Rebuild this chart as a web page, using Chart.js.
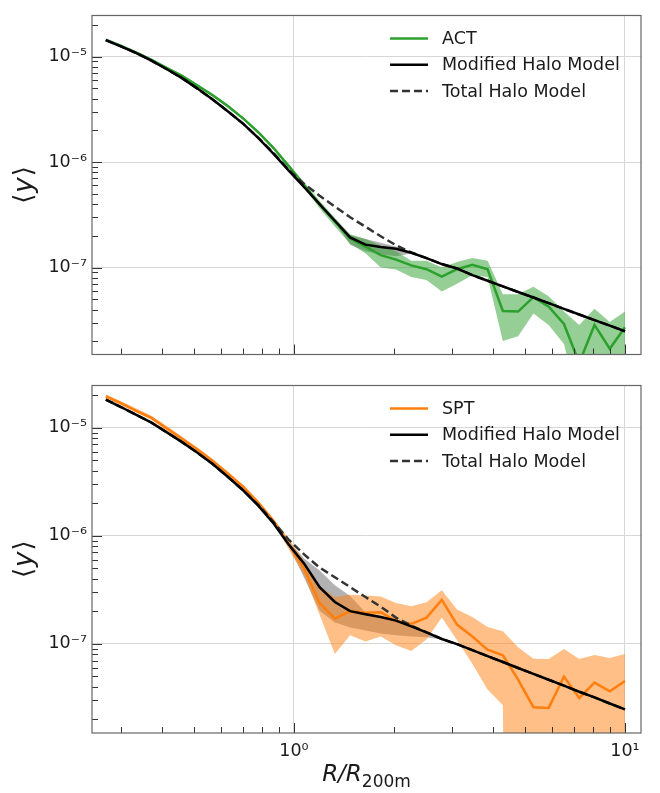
<!DOCTYPE html>
<html>
<head>
<meta charset="utf-8">
<script src="https://cdn.jsdelivr.net/npm/chart.js@4.4.0/dist/chart.umd.min.js"></script>
<style>
  body { margin: 0; background: #fff; }
  #wrap { position: relative; width: 660px; height: 793px; }
  canvas { position: absolute; left: 0; }
</style>
</head>
<body>
<div id="wrap">
  <canvas id="actChart" width="660" height="370" style="top:0px"></canvas>
  <canvas id="sptChart" width="660" height="423" style="top:370px"></canvas>
</div>
<script>
// radial bins, R / R200m
const R = [0.270, 0.300, 0.334, 0.371, 0.413, 0.459, 0.511, 0.568, 0.632, 0.703,
           0.781, 0.869, 0.966, 1.075, 1.195, 1.329, 1.478, 1.644, 1.828, 2.033,
           2.261, 2.514, 2.796, 3.109, 3.458, 3.845, 4.276, 4.755, 5.289, 5.882,
           6.541, 7.274, 8.090, 8.996, 10.00]

// ACT panel
const ACT = [1.44e-5, 1.26e-5, 1.09e-5, 9.30e-6, 7.79e-6, 6.55e-6, 5.30e-6, 4.30e-6, 3.38e-6, 2.58e-6,
             1.91e-6, 1.35e-6, 9.11e-7, 6.00e-7, 3.96e-7, 2.72e-7, 1.89e-7, 1.58e-7, 1.31e-7, 1.19e-7,
             1.05e-7, 9.65e-8, 8.20e-8, 9.65e-8, 1.06e-7, 9.65e-8, 3.88e-8, 3.83e-8, 5.24e-8, 4.26e-8,
             2.92e-8, 1.25e-8, 2.86e-8, 1.70e-8, 2.72e-8]
const ACT_HI = [1.49e-5, 1.30e-5, 1.12e-5, 9.60e-6, 8.04e-6, 6.76e-6, 5.47e-6, 4.44e-6, 3.49e-6, 2.66e-6,
                1.97e-6, 1.40e-6, 9.49e-7, 6.39e-7, 4.30e-7, 2.96e-7, 2.07e-7, 1.87e-7, 1.62e-7, 1.43e-7,
                1.16e-7, 1.16e-7, 1.00e-7, 1.13e-7, 1.23e-7, 1.16e-7, 5.58e-8, 5.58e-8, 6.59e-8, 5.35e-8,
                3.83e-8, 2.86e-8, 4.08e-8, 3.05e-8, 3.83e-8]
const ACT_LO = [1.40e-5, 1.22e-5, 1.05e-5, 9.01e-6, 7.55e-6, 6.35e-6, 5.14e-6, 4.17e-6, 3.28e-6, 2.50e-6,
                1.85e-6, 1.31e-6, 8.74e-7, 5.64e-7, 3.64e-7, 2.45e-7, 1.68e-7, 1.37e-7, 1.00e-7, 9.59e-8,
                8.12e-8, 7.63e-8, 5.94e-8, 7.02e-8, 8.46e-8, 8.12e-8, 2.01e-8, 2.23e-8, 3.68e-8, 2.86e-8,
                1.89e-8, 5e-9, 5e-9, 5e-9, 5e-9]
const MOD_ACT = [1.43e-5, 1.25e-5, 1.08e-5, 9.14e-6, 7.58e-6, 6.24e-6, 4.97e-6, 3.91e-6, 3.02e-6, 2.30e-6,
                 1.69e-6, 1.19e-6, 8.24e-7, 5.76e-7, 3.99e-7, 2.78e-7, 1.93e-7, 1.65e-7, 1.57e-7, 1.51e-7,
                 1.38e-7, 1.23e-7, 1.08e-7, 9.79e-8, 8.48e-8, 7.50e-8, 6.63e-8, 5.87e-8, 5.20e-8, 4.60e-8,
                 4.06e-8, 3.59e-8, 3.18e-8, 2.82e-8, 2.49e-8]
const TOT_ACT = [1.43e-5, 1.25e-5, 1.08e-5, 9.14e-6, 7.58e-6, 6.24e-6, 4.97e-6, 3.91e-6, 3.02e-6, 2.30e-6,
                 1.69e-6, 1.21e-6, 8.38e-7, 6.18e-7, 4.80e-7, 3.78e-7, 3.00e-7, 2.44e-7, 1.98e-7, 1.63e-7,
                 1.39e-7, 1.23e-7, 1.08e-7, 9.79e-8, 8.48e-8, 7.50e-8, 6.63e-8, 5.87e-8, 5.20e-8, 4.60e-8,
                 4.06e-8, 3.59e-8, 3.18e-8, 2.82e-8, 2.49e-8]
const GREY_ACT_HI = [null, null, null, null, null, null, null, null, null, null,
                     null, null, null, null, null, 2.78e-7, 2.03e-7, 1.87e-7, 1.72e-7, 1.58e-7,
                     1.39e-7, null, null, null, null, null, null, null, null, null,
                     null, null, null, null, null]
const GREY_ACT_LO = [null, null, null, null, null, null, null, null, null, null,
                     null, null, null, null, null, 2.70e-7, 1.65e-7, 1.43e-7, 1.34e-7, 1.28e-7,
                     1.36e-7, null, null, null, null, null, null, null, null, null,
                     null, null, null, null, null]

// SPT panel
const SPT = [1.94e-5, 1.68e-5, 1.43e-5, 1.23e-5, 9.83e-6, 7.89e-6, 6.27e-6, 4.90e-6, 3.75e-6, 2.83e-6,
             2.02e-6, 1.36e-6, 8.40e-7, 4.88e-7, 2.39e-7, 1.71e-7, 2.01e-7, 1.94e-7, 1.96e-7, 1.63e-7,
             1.53e-7, 1.75e-7, 2.55e-7, 1.51e-7, 1.17e-7, 8.86e-8, 7.84e-8, 4.68e-8, 2.60e-8, 2.56e-8,
             4.98e-8, 3.16e-8, 4.39e-8, 3.64e-8, 4.53e-8]
const SPT_HI = [2.03e-5, 1.75e-5, 1.50e-5, 1.29e-5, 1.03e-5, 8.23e-6, 6.54e-6, 5.11e-6, 3.91e-6, 2.95e-6,
                2.11e-6, 1.42e-6, 9.33e-7, 5.71e-7, 3.42e-7, 2.71e-7, 2.85e-7, 2.80e-7, 2.75e-7, 2.39e-7,
                2.23e-7, 2.43e-7, 3.14e-7, 2.08e-7, 1.77e-7, 1.43e-7, 1.31e-7, 9.33e-8, 7.30e-8, 7.26e-8,
                8.95e-8, 7.26e-8, 7.89e-8, 7.41e-8, 8.06e-8]
const SPT_LO = [1.86e-5, 1.61e-5, 1.37e-5, 1.18e-5, 9.42e-6, 7.56e-6, 6.01e-6, 4.70e-6, 3.60e-6, 2.71e-6,
                1.94e-6, 1.30e-6, 7.41e-7, 4.30e-7, 1.86e-7, 8.06e-8, 1.20e-7, 1.05e-7, 1.17e-7, 9.73e-8,
                8.58e-8, 1.10e-7, 1.75e-7, 1.08e-7, 6.54e-8, 3.79e-8, 2.71e-8, 1e-20, 1e-20, 1e-20,
                1e-20, 1e-20, 1e-20, 1e-20, 1e-20]
const MOD_SPT = [1.81e-5, 1.55e-5, 1.31e-5, 1.11e-5, 9.03e-6, 7.34e-6, 5.85e-6, 4.60e-6, 3.49e-6, 2.62e-6,
                 1.89e-6, 1.29e-6, 8.23e-7, 5.47e-7, 3.35e-7, 2.44e-7, 2.01e-7, 1.88e-7, 1.77e-7, 1.64e-7,
                 1.45e-7, 1.28e-7, 1.11e-7, 9.94e-8, 8.75e-8, 7.71e-8, 6.80e-8, 5.99e-8, 5.28e-8, 4.66e-8,
                 4.11e-8, 3.61e-8, 3.20e-8, 2.81e-8, 2.48e-8]
const TOT_SPT = [1.81e-5, 1.55e-5, 1.31e-5, 1.11e-5, 9.03e-6, 7.34e-6, 5.85e-6, 4.60e-6, 3.49e-6, 2.62e-6,
                 1.92e-6, 1.33e-6, 9.14e-7, 6.68e-7, 5.08e-7, 4.13e-7, 3.35e-7, 2.71e-7, 2.21e-7, 1.75e-7,
                 1.48e-7, 1.28e-7, 1.11e-7, 9.94e-8, 8.75e-8, 7.71e-8, 6.80e-8, 5.99e-8, 5.28e-8, 4.66e-8,
                 4.11e-8, 3.61e-8, 3.20e-8, 2.81e-8, 2.48e-8]
const GREY_SPT_HI = [null, null, null, null, null, null, null, null, null, null,
                     null, null, 8.76e-7, 6.14e-7, 4.78e-7, 3.49e-7, 2.77e-7, 1.95e-7, 1.80e-7, 1.66e-7,
                     1.47e-7, 1.29e-7, 1.12e-7, null, null, null, null, null, null, null,
                     null, null, null, null, null]
const GREY_SPT_LO = [null, null, null, null, null, null, null, null, null, null,
                     null, null, 7.89e-7, 4.04e-7, 2.03e-7, 1.58e-7, 1.42e-7, 1.33e-7, 1.25e-7, 1.20e-7,
                     1.17e-7, 1.15e-7, 1.10e-7, null, null, null, null, null, null, null,
                     null, null, null, null, null]

const X_MIN = 0.2453, X_MAX = 11.18
const Y_MIN = 1.5e-8, Y_MAX = 2.45e-5

const FONT = "'DejaVu Sans', sans-serif"
const SUP = { '-': '⁻', '0': '⁰', '1': '¹', '2': '²', '3': '³', '4': '⁴', '5': '⁵', '6': '⁶', '7': '⁷', '8': '⁸', '9': '⁹' }

const isDecade = (v) => {
    const l = Math.log10(v)
    return Math.abs(l - Math.round(l)) < 1e-6
}

const powLabel = (v) => {
    if (!isDecade(v)) return ''
    return '10' + String(Math.round(Math.log10(v))).split('').map(c => SUP[c]).join('')
}

const gridColor = (c) => (c.tick && isDecade(c.tick.value)) ? '#d6d6d6' : 'rgba(0,0,0,0)'

const decor = {
    id: 'decor',
    afterDraw(chart) {
        const ctx = chart.ctx, a = chart.chartArea
        const xs = chart.scales.x, ys = chart.scales.y
        const o = chart.options.plugins.decor
        ctx.save()

        // inward ticks
        ctx.strokeStyle = '#333'
        ctx.lineWidth = 1
        ctx.beginPath()
        for (let e = -1; e <= 1; e++) {
            for (let k = 1; k <= 9; k++) {
                const v = k * Math.pow(10, e)
                if (v < xs.min || v > xs.max) continue
                const px = Math.round(xs.getPixelForValue(v)) + 0.5
                ctx.moveTo(px, a.bottom)
                ctx.lineTo(px, a.bottom - (k === 1 ? 10 : 6))
            }
        }
        for (let e = -9; e <= -4; e++) {
            for (let k = 1; k <= 9; k++) {
                const v = k * Math.pow(10, e)
                if (v < ys.min || v > ys.max) continue
                const py = Math.round(ys.getPixelForValue(v)) + 0.5
                ctx.moveTo(a.left, py)
                ctx.lineTo(a.left + (k === 1 ? 10 : 6), py)
            }
        }
        ctx.stroke()

        // frame
        ctx.strokeStyle = '#666'
        ctx.lineWidth = 1.2
        ctx.strokeRect(a.left, a.top, a.right - a.left, a.bottom - a.top)

        // legend
        ctx.font = '17.5px ' + FONT
        ctx.textBaseline = 'middle'
        ctx.textAlign = 'left'
        o.legend.forEach((idx, i) => {
            const ds = chart.data.datasets[idx]
            const y = a.top + 23 + i * 26.3
            ctx.beginPath()
            ctx.strokeStyle = ds.borderColor
            ctx.lineWidth = ds.borderWidth
            ctx.setLineDash(ds.borderDash || [])
            ctx.moveTo(390, y)
            ctx.lineTo(428, y)
            ctx.stroke()
            ctx.setLineDash([])
            ctx.fillStyle = '#1a1a1a'
            ctx.fillText(ds.label, 442, y + 1)
        })

        // y title  <y>
        const cy = (a.top + a.bottom) / 2
        ctx.translate(25, cy)
        ctx.rotate(-Math.PI / 2)
        const up = '26px ' + FONT, it = 'italic 26px ' + FONT
        ctx.font = up
        const wl = ctx.measureText('⟨').width
        ctx.font = it
        const wy = ctx.measureText('y').width
        let x0 = -(wl * 2 + wy + 2) / 2
        ctx.fillStyle = '#1a1a1a'
        ctx.font = up
        ctx.fillText('⟨', x0, 0)
        ctx.font = it
        ctx.fillText('y', x0 + wl + 1, 0)
        ctx.font = up
        ctx.fillText('⟩', x0 + wl + wy + 2, 0)
        ctx.setTransform(1, 0, 0, 1, 0, 0)

        // x title  R/R_200m
        if (o.xTitle) {
            const big = 'italic 23px ' + FONT, small = '17px ' + FONT
            ctx.font = big
            const w1 = ctx.measureText('R/R').width
            ctx.font = small
            const w2 = ctx.measureText('200m').width
            const cx = (a.left + a.right) / 2
            const bx = cx - (w1 + w2) / 2
            ctx.textBaseline = 'alphabetic'
            ctx.font = big
            ctx.fillText('R/R', bx, 411)
            ctx.font = small
            ctx.fillText('200m', bx + w1, 417)
        }
        ctx.restore()
    }
}

const makePanel = (canvasId, obs, obsHi, obsLo, mod, tot, greyHi, greyLo, name, color, band, bottom) => {
    return new Chart(document.getElementById(canvasId), {
        type: 'line',
        data: {
            labels: R,
            datasets: [
                { label: 'Modified Halo Model', data: mod, borderColor: '#000', borderWidth: 2.5 },
                { label: 'Total Halo Model', data: tot, borderColor: '#333', borderWidth: 2.5, borderDash: [8, 4] },
                { label: name, data: obs, borderColor: color, borderWidth: 2.5 },
                { label: 'lo', data: obsLo, borderColor: 'rgba(0,0,0,0)', borderWidth: 0 },
                { label: 'hi', data: obsHi, borderColor: 'rgba(0,0,0,0)', borderWidth: 0, fill: '-1', backgroundColor: band },
                { label: 'glo', data: greyLo, borderColor: 'rgba(0,0,0,0)', borderWidth: 0 },
                { label: 'ghi', data: greyHi, borderColor: 'rgba(0,0,0,0)', borderWidth: 0, fill: '-1', backgroundColor: 'rgba(0,0,0,0.3)' }
            ]
        },
        options: {
            responsive: false,
            animation: false,
            devicePixelRatio: 1,
            events: [],
            elements: { point: { radius: 0 }, line: { tension: 0, fill: false } },
            layout: { padding: { top: bottom ? 9 : 6, right: 19, left: 0, bottom: 0 } },
            scales: {
                x: {
                    type: 'logarithmic',
                    min: X_MIN,
                    max: X_MAX,
                    border: { display: false },
                    grid: { color: gridColor, drawTicks: false, lineWidth: 1 },
                    ticks: {
                        display: bottom,
                        autoSkip: false,
                        maxRotation: 0,
                        padding: 8,
                        color: '#1a1a1a',
                        font: { family: FONT, size: 17.5 },
                        callback: (v) => powLabel(v)
                    },
                    afterFit: (s) => { s.height = bottom ? 60 : 10 }
                },
                y: {
                    type: 'logarithmic',
                    min: Y_MIN,
                    max: Y_MAX,
                    border: { display: false },
                    grid: { color: gridColor, drawTicks: false, lineWidth: 1 },
                    ticks: {
                        autoSkip: false,
                        padding: 5,
                        color: '#1a1a1a',
                        font: { family: FONT, size: 17.5 },
                        callback: (v) => powLabel(v)
                    },
                    afterFit: (s) => { s.width = 92 }
                }
            },
            plugins: {
                legend: { display: false },
                tooltip: { enabled: false },
                decor: { legend: [2, 0, 1], xTitle: bottom }
            }
        },
        plugins: [decor]
    })
}

makePanel('actChart', ACT, ACT_HI, ACT_LO, MOD_ACT, TOT_ACT, GREY_ACT_HI, GREY_ACT_LO,
    'ACT', '#2ca02c', 'rgba(44,160,44,0.5)', false)
makePanel('sptChart', SPT, SPT_HI, SPT_LO, MOD_SPT, TOT_SPT, GREY_SPT_HI, GREY_SPT_LO,
    'SPT', '#ff7f0e', 'rgba(255,127,14,0.5)', true)
</script>
</body>
</html>
